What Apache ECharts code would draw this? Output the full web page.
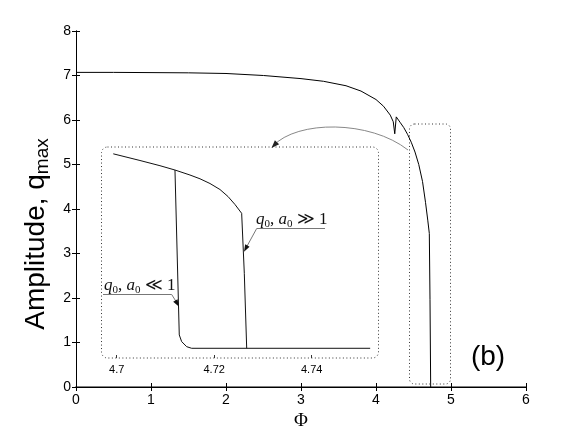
<!DOCTYPE html>
<html>
<head>
<meta charset="utf-8">
<script src="https://cdn.jsdelivr.net/npm/echarts@6/dist/echarts.min.js"></script>
<style>
  html, body { margin: 0; padding: 0; background: #fff; }
  #chart { width: 581px; height: 436px; }
</style>
</head>
<body>
<div id="chart"></div>
<script>
// main curve, Phi vs q_max
var phiMain = [0, 0.5, 1, 1.5, 2, 2.5, 3, 3.3, 3.6, 3.8, 4.0, 4.1, 4.19, 4.23, 4.25,
  4.27, 4.32, 4.37, 4.42, 4.47, 4.52, 4.57, 4.62, 4.66, 4.69, 4.711, 4.72, 4.729];
var ampMain = [7.07, 7.07, 7.065, 7.06, 7.045, 7.0, 6.93, 6.87, 6.77, 6.65, 6.46, 6.31, 6.11, 5.96, 5.69,
  6.07, 5.95, 5.83, 5.68, 5.50, 5.28, 5.00, 4.62, 4.15, 3.75, 3.45, 1.96, 0];

// inset: q0,a0 >> 1 branch
var insetPhiA = [4.6993, 4.70478, 4.70888, 4.71196, 4.71503, 4.71709, 4.71914, 4.72119, 4.72283,
  4.72427, 4.72564, 4.72618, 4.72667];
var insetAmpA = [5.24, 5.09, 4.973, 4.876, 4.764, 4.679, 4.573, 4.438, 4.281,
  4.101, 3.903, 2.555, 0.87];
// inset: q0,a0 << 1 branch
var insetPhiB = [4.71196, 4.71284, 4.71333, 4.71436, 4.71538, 4.7520];
var insetAmpB = [4.876, 1.17, 1.02, 0.906, 0.87, 0.87];

var insetTicks = [4.7, 4.72, 4.74];

function pairs(xs, ys) {
  var out = [];
  for (var i = 0; i < xs.length; i++) {
    out.push([xs[i], ys[i]]);
  }
  return out;
}

function arrowHead(tip, dir, len, half, color) {
  var bx = tip[0] - dir[0] * len;
  var by = tip[1] - dir[1] * len;
  return {
    type: 'polygon',
    shape: { points: [tip, [bx - dir[1] * half, by + dir[0] * half], [bx + dir[1] * half, by - dir[0] * half]] },
    style: { fill: color },
    z: 20
  };
}

var dotted = { fill: 'none', stroke: '#333', lineWidth: 1, lineDash: [1, 2.5] };
var mathRich = {
  i: { fontFamily: 'Liberation Serif', fontStyle: 'italic', fontSize: 17, lineHeight: 20, fill: '#111' },
  s: { fontFamily: 'Liberation Serif', fontSize: 11, lineHeight: 11, verticalAlign: 'bottom', fill: '#111' },
  n: { fontFamily: 'Liberation Serif', fontSize: 17, lineHeight: 20, fill: '#111' }
};

var chart = echarts.init(document.getElementById('chart'))

chart.setOption({
  animation: false,
  backgroundColor: '#fff',
  grid: [
    { left: 76, top: 31, width: 450, height: 356 },
    { left: 111.8, top: 31, width: 263.25, height: 356 }
  ],
  xAxis: [
    {
      gridIndex: 0, type: 'value', min: 0, max: 6, interval: 1,
      name: 'Φ', nameLocation: 'middle', nameGap: 24,
      nameTextStyle: { fontFamily: 'Liberation Serif', fontSize: 19, color: '#000' },
      axisLine: { lineStyle: { color: '#808080', width: 2 } },
      axisTick: { inside: true, length: 4, lineStyle: { color: '#000' } },
      axisLabel: { margin: 6, fontFamily: 'Liberation Sans', fontSize: 14, color: '#000' },
      splitLine: { show: false }
    },
    {
      gridIndex: 0, type: 'value', min: 0, max: 6, interval: 1, position: 'top',
      axisLine: { lineStyle: { color: '#000', width: 1 } },
      axisTick: { inside: true, length: 4, lineStyle: { color: '#000' } },
      axisLabel: { show: false },
      splitLine: { show: false }
    },
    {
      gridIndex: 1, type: 'value', min: 4.699, max: 4.753, offset: -29,
      axisLine: { show: false },
      axisTick: { inside: true, length: 3, customValues: insetTicks, lineStyle: { color: '#333' } },
      axisLabel: {
        margin: 6, fontFamily: 'Liberation Sans', fontSize: 11, color: '#000',
        customValues: insetTicks, formatter: function (v) { return String(Math.round(v * 100) / 100); }
      },
      splitLine: { show: false }
    }
  ],
  yAxis: [
    {
      gridIndex: 0, type: 'value', min: 0, max: 8, interval: 1,
      name: 'Amplitude, q{s|max}', nameLocation: 'middle', nameGap: 21, nameRotate: 90,
      nameTextStyle: {
        fontFamily: 'Liberation Sans', fontSize: 28, color: '#000', lineHeight: 32,
        padding: [0, 50, 0, 0],
        rich: { s: { fontFamily: 'Liberation Sans', fontSize: 19, lineHeight: 19, verticalAlign: 'bottom', color: '#000' } }
      },
      axisLine: { lineStyle: { color: '#000', width: 1 } },
      axisTick: { inside: true, length: 4, lineStyle: { color: '#000' } },
      axisLabel: { margin: 5, fontFamily: 'Liberation Sans', fontSize: 14, color: '#000' },
      splitLine: { show: false }
    },
    {
      gridIndex: 0, type: 'value', min: 0, max: 8, interval: 1, position: 'right',
      axisLine: { lineStyle: { color: '#000', width: 1 } },
      axisTick: { inside: true, length: 4, lineStyle: { color: '#000' } },
      axisLabel: { show: false },
      splitLine: { show: false }
    },
    {
      gridIndex: 1, type: 'value', min: 0, max: 8, show: false
    }
  ],
  series: [
    {
      type: 'line', xAxisIndex: 0, yAxisIndex: 0, data: pairs(phiMain, ampMain),
      showSymbol: false, lineStyle: { color: '#000', width: 1 }
    },
    {
      type: 'line', xAxisIndex: 2, yAxisIndex: 2, data: pairs(insetPhiA, insetAmpA),
      showSymbol: false, lineStyle: { color: '#111', width: 1 }
    },
    {
      type: 'line', xAxisIndex: 2, yAxisIndex: 2, data: pairs(insetPhiB, insetAmpB),
      showSymbol: false, lineStyle: { color: '#111', width: 1 }
    }
  ],
  graphic: [
    // zoom boxes
    { type: 'rect', shape: { x: 101.5, y: 147, width: 277, height: 211, r: 6 }, style: dotted, z: 10 },
    { type: 'rect', shape: { x: 409.5, y: 124, width: 41, height: 260, r: 5 }, style: dotted, z: 10 },
    // curved arrow from small box to inset
    {
      type: 'bezierCurve',
      shape: { x1: 408, y1: 150, cpx1: 370, cpy1: 120, cpx2: 297, cpy2: 120, x2: 273, y2: 146 },
      style: { fill: 'none', stroke: '#888', lineWidth: 1 }, z: 15
    },
    arrowHead([271.5, 148], [-0.69, 0.72], 8, 3, '#222'),
    // q0,a0 >> 1
    {
      type: 'text', z: 20,
      style: { text: '{i|q}{s|0}{n|, }{i|a}{s|0}{n| ≫ 1}', x: 256, y: 220, verticalAlign: 'middle', rich: mathRich }
    },
    {
      type: 'polyline', z: 15,
      shape: { points: [[325, 228.5], [256.7, 228.5], [246, 248]] },
      style: { fill: 'none', stroke: '#777', lineWidth: 1 }
    },
    arrowHead([244, 251.7], [-0.48, 0.88], 7, 2.5, '#111'),
    // q0,a0 << 1
    {
      type: 'text', z: 20,
      style: { text: '{i|q}{s|0}{n|, }{i|a}{s|0}{n| ≪ 1}', x: 104, y: 286, verticalAlign: 'middle', rich: mathRich }
    },
    {
      type: 'polyline', z: 15,
      shape: { points: [[103, 294.5], [171.7, 294.5], [177.3, 303.5]] },
      style: { fill: 'none', stroke: '#777', lineWidth: 1 }
    },
    arrowHead([178.8, 306.5], [0.49, 0.87], 7, 2.5, '#111'),
    // panel tag
    {
      type: 'text', z: 20,
      style: { text: '(b)', x: 488, y: 357, align: 'center', verticalAlign: 'middle', font: '28px "Liberation Sans"', fill: '#000' }
    }
  ]
})
</script>
</body>
</html>
